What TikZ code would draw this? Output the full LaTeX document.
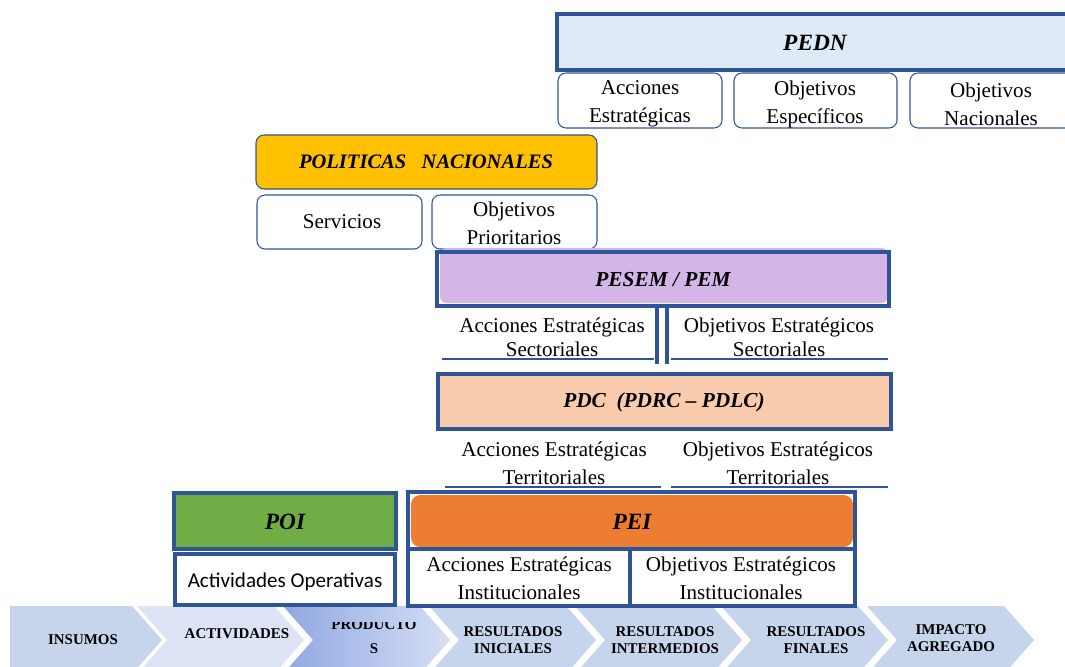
\documentclass[tikz,border=0pt]{standalone}
\usepackage{fontspec}
\setmainfont{Liberation Serif}
\newfontfamily\calibrifont{Carlito}
\definecolor{frameblue}{HTML}{2F5597}
\definecolor{peknfill}{HTML}{DEEBF7}
\definecolor{polfill}{HTML}{FFC000}
\definecolor{pesemfill}{HTML}{D3B6E7}
\definecolor{pdcfill}{HTML}{F8CBAD}
\definecolor{poifill}{HTML}{70AD47}
\definecolor{peifill}{HTML}{ED7D31}
\definecolor{chevA}{HTML}{C6D4EC}
\definecolor{chevB}{HTML}{DCE3F5}
\definecolor{chevDark}{HTML}{8FA8E2}
\definecolor{chevLight}{HTML}{D6DEF4}
\tikzset{
  thickframe/.style={draw=frameblue, line width=2.6pt},
  roundframe/.style={draw=frameblue, line width=0.8pt, rounded corners=6pt},
  underline/.style={draw=frameblue, line width=0.8pt},
  titletext/.style={font=\fontsize{16}{19}\selectfont\bfseries\itshape, inner sep=0pt},
  bigtitle/.style={font=\fontsize{17.5}{20}\selectfont\bfseries\itshape, inner sep=0pt},
  bodytext/.style={font=\fontsize{15.8}{21}\selectfont, align=center, inner sep=0pt},
  tighttext/.style={font=\fontsize{15.8}{18}\selectfont, align=center, inner sep=0pt},
  chevtext/.style={font=\fontsize{11.2}{12.8}\selectfont\bfseries, align=center, inner sep=0pt},
}
\begin{document}
\begin{tikzpicture}[x=0.75pt, y=-0.75pt]
\useasboundingbox (0,0) rectangle (1065,667);
\clip (0,0) rectangle (1065,667);

% ---- value chain arrows along the bottom ----
\fill[chevA] (10,606) -- (132,606) -- (162,640) -- (132,674) -- (10,674) -- cycle;
\fill[chevB] (137,606) -- (274,606) -- (304,640) -- (274,674) -- (137,674) -- (167,640) -- cycle;
\shade[left color=chevDark, right color=chevLight] (283,606) -- (420,606) -- (450,640) -- (420,674) -- (283,674) -- (313,640) -- cycle;
\foreach \n in {429,575,721,867}
  \fill[chevA] (\n,606) -- (\n+137,606) -- (\n+167,640) -- (\n+137,674) -- (\n,674) -- (\n+30,640) -- cycle;

\node[chevtext] (insumos) at (83,640) {INSUMOS};
\node[chevtext] (actividades) at (237,634) {ACTIVIDADES};
\begin{scope}
  \clip (283,622) rectangle (450,674);
  \node[chevtext] (productos) at (374,625) {PRODUCTO};
\end{scope}
\node[chevtext] (productosS) at (374,649) {S};
\node[chevtext] (rinic) at (513,640) {RESULTADOS\\INICIALES};
\node[chevtext] (rinter) at (665,640) {RESULTADOS\\INTERMEDIOS};
\node[chevtext] (rfin) at (816,640) {RESULTADOS\\FINALES};
\node[chevtext] (impacto) at (951,638) {IMPACTO\\AGREGADO};

% ---- PEDN ----
\fill[peknfill] (557,14) rectangle (1080,70);
\draw[thickframe] (557,14) rectangle (1080,70);
\node[bigtitle] (pedn) at (815,43) {PEDN};
\draw[roundframe] (558,73) rectangle (722,128);
\node[bodytext] (pednA) at (640,104) {Acciones\\Estratégicas};
\draw[roundframe] (734,73) rectangle (897,128);
\node[bodytext] (pednB) at (815,104) {Objetivos\\Específicos};
\draw[roundframe] (910,73) rectangle (1080,128);
\node[bodytext] (pednC) at (991,104) {Objetivos\\Nacionales};

% ---- Politicas nacionales ----
\draw[roundframe, fill=polfill] (256,135) rectangle (597,189);
\node[titletext, font=\fontsize{15.4}{19}\selectfont\bfseries\itshape] (pol) at (426,162) {POLITICAS\ \ \ NACIONALES};
\draw[roundframe] (257,195) rectangle (422,249);
\node[bodytext] (polA) at (342,222) {Servicios};
\draw[roundframe] (432,195) rectangle (597,249);
\node[bodytext] (polB) at (514,223) {Objetivos\\Prioritarios};

% ---- PESEM / PEM ----
\fill[pesemfill, rounded corners=5pt] (440,248) rectangle (888,303);
\draw[thickframe] (437,252) rectangle (889,306);
\node[titletext] (pesem) at (663,280) {PESEM / PEM};
\draw[frameblue, line width=3pt] (657,306) -- (657,364);
\draw[frameblue, line width=3pt] (667,306) -- (667,364);
\node[tighttext] (pesemA) at (552,337) {Acciones Estratégicas\\Sectoriales};
\node[tighttext] (pesemB) at (779,337) {Objetivos Estratégicos\\Sectoriales};
\draw[underline] (442,359) -- (654,359);
\draw[underline] (671,359) -- (888,359);

% ---- PDC ----
\fill[pdcfill] (438,374) rectangle (891,429);
\draw[thickframe] (438,374) rectangle (891,429);
\node[titletext] (pdc) at (664,402) {PDC\ \ (PDRC – PDLC)};
\node[bodytext] (pdcA) at (554,463) {Acciones Estratégicas\\Territoriales};
\node[bodytext] (pdcB) at (778,463) {Objetivos Estratégicos\\Territoriales};
\draw[underline] (445,487) -- (661,487);
\draw[underline] (671,487) -- (888,487);

% ---- POI ----
\fill[poifill] (174,493) rectangle (396,549);
\draw[thickframe] (174,493) rectangle (396,549);
\node[bigtitle] (poi) at (285,522) {POI};
\draw[thickframe, fill=white] (175,554) rectangle (395,605);
\node[bodytext, font=\calibrifont\fontsize{15.8}{19}\selectfont] (poiA) at (285,582) {Actividades Operativas};

% ---- PEI ----
\fill[white] (408,492) rectangle (855,606);
\fill[peifill, rounded corners=7pt] (411,495) rectangle (853,547);
\draw[thickframe] (408,492) rectangle (855,606);
\draw[frameblue, line width=2.6pt] (408,549) -- (855,549);
\draw[frameblue, line width=2.6pt] (630,549) -- (630,606);
\node[bigtitle] (pei) at (632,522) {PEI};
\node[bodytext] (peiA) at (519,578) {Acciones Estratégicas\\Institucionales};
\node[bodytext] (peiB) at (741,578) {Objetivos Estratégicos\\Institucionales};
\end{tikzpicture}
\end{document}
